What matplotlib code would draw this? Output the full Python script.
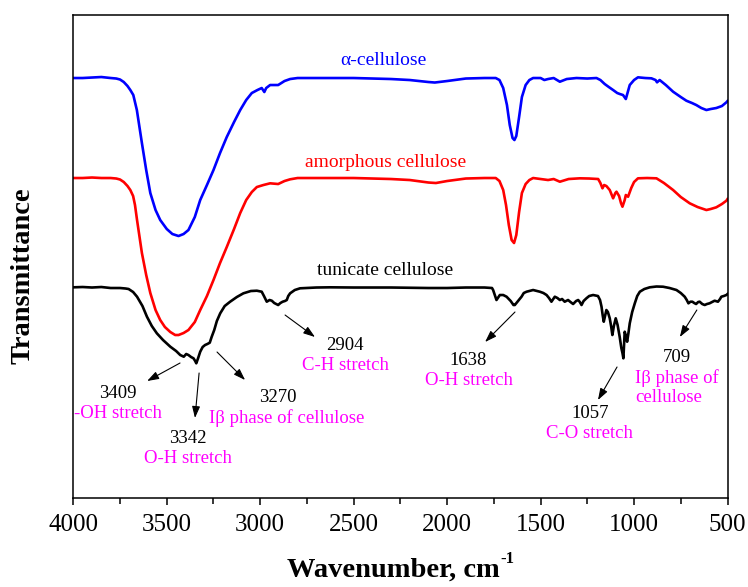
import matplotlib
matplotlib.use("Agg")
import matplotlib.pyplot as plt
from matplotlib.ticker import MultipleLocator

plt.rcParams["font.family"] = ["Liberation Serif", "DejaVu Serif"]

# FTIR spectra, transmittance in arbitrary (offset) units
alpha_wn = [4000, 3950, 3900, 3850, 3800, 3770, 3750, 3730, 3710, 3695, 3679, 3660, 3633, 3610,
            3588, 3560, 3535, 3500, 3470, 3437, 3410, 3384, 3350, 3321, 3285, 3250, 3215,
            3179, 3140, 3107, 3075, 3045, 3015, 2992, 2978, 2968, 2947, 2904, 2870, 2840,
            2800, 2700, 2500, 2300, 2200, 2100, 2066, 2000, 1900, 1800, 1740, 1720, 1700,
            1680, 1665, 1650, 1640, 1630, 1615, 1600, 1580, 1560, 1540, 1500, 1480, 1460,
            1430, 1397, 1360, 1308, 1250, 1201, 1180, 1157, 1135, 1112, 1090, 1076, 1059,
            1044, 1035, 1023, 1000, 979, 940, 907, 885, 877, 863, 830, 791, 750, 720, 690,
            667, 640, 613, 590, 560, 530, 506, 500]
alpha_t = [422, 422, 422.5, 423, 422, 421.5, 420.5, 418, 414, 410, 405, 390, 357, 330,
           307, 290, 280, 271, 266, 264, 266, 270, 283, 300, 315, 330, 347,
           363, 378, 390, 400, 407, 410, 412, 408, 412, 415, 415, 419, 421,
           422, 422, 422, 421, 420, 418, 417.5, 419, 421.5, 422, 422, 420, 412,
           395, 375, 362, 360, 364, 383, 403, 415, 420, 422, 422, 420, 421,
           422, 418.3, 421, 422, 421.5, 422, 420, 416, 413, 410, 407, 406, 405,
           401, 407, 415, 420, 422.7, 422, 421.7, 420, 417.7, 420, 415, 408.3, 403, 399.3, 397,
           395, 392, 390, 391, 392, 394, 397.7, 399]

amorph_wn = [4000, 3950, 3900, 3850, 3800, 3770, 3750, 3730, 3710, 3695, 3680, 3670, 3659, 3633,
             3610, 3588, 3560, 3535, 3510, 3481, 3455, 3437, 3410, 3384, 3350, 3321, 3285,
             3250, 3215, 3179, 3140, 3107, 3075, 3045, 3018, 2983, 2947, 2904, 2870, 2840,
             2800, 2700, 2500, 2300, 2200, 2100, 2060, 2000, 1900, 1800, 1740, 1720, 1700,
             1685, 1670, 1655, 1642, 1630, 1615, 1600, 1580, 1560, 1540, 1500, 1460, 1430,
             1397, 1350, 1290, 1240, 1192, 1180, 1169, 1160, 1148, 1130, 1112, 1100, 1094,
             1080, 1070, 1062, 1050, 1044, 1032, 1015, 1000, 979, 930, 880, 840, 791, 750,
             702, 660, 613, 590, 560, 530, 506, 500]
amorph_t = [322, 322, 322.5, 322, 322, 321.5, 320.5, 318, 314, 310, 304, 295, 280, 247,
            225, 207, 190, 180, 173, 168, 165, 165, 167, 170, 178, 190, 204,
            220, 237, 253, 271, 287, 300, 308, 313, 315, 316.7, 316, 319, 320.7,
            322, 322, 322, 321, 320, 317.5, 317, 319, 321.5, 322, 322, 319, 310,
            295, 275, 260, 257, 265, 288, 307, 316, 320, 322, 321, 320, 321,
            318.3, 321, 321.7, 321.5, 321, 317, 311.7, 315, 314, 310, 301.7, 307, 308.3,
            304, 297, 293.3, 300, 305, 303.3, 312, 318, 321.7, 322, 321.7, 317, 310, 303,
            296.7, 293, 290, 291, 292.7, 296, 299.3, 301]

tunicate_wn = [4000, 3950, 3900, 3850, 3800, 3750, 3720, 3704, 3680, 3659, 3630, 3606, 3580,
               3553, 3520, 3481, 3450, 3428, 3417, 3409, 3396, 3384, 3370, 3357, 3348, 3342,
               3332, 3321, 3308, 3295, 3283, 3270, 3260, 3246, 3232, 3214, 3190, 3161, 3125,
               3090, 3050, 3018, 2992, 2980, 2965, 2950, 2938, 2925, 2904, 2892, 2880, 2868,
               2858, 2850, 2840, 2815, 2787, 2700, 2626, 2500, 2300, 2100, 2000, 1900, 1800,
               1760, 1754, 1745, 1736, 1725, 1718, 1700, 1682, 1660, 1645, 1638, 1625, 1612,
               1602, 1590, 1575, 1540, 1504, 1485, 1468, 1455, 1442, 1424, 1410, 1397, 1385,
               1371, 1353, 1340, 1326, 1310, 1299, 1290, 1281, 1270, 1255, 1240, 1219, 1205,
               1193, 1182, 1174, 1168, 1162, 1155, 1148, 1140, 1130, 1122, 1116, 1108, 1098,
               1088, 1077, 1068, 1062, 1057, 1050, 1043, 1037, 1030, 1023, 1010, 996, 983,
               969, 945, 916, 880, 845, 810, 773, 750, 729, 718, 709, 698, 688, 678, 668, 657,
               649, 635, 622, 610, 596, 583, 569, 551, 540, 533, 520, 506, 500]
tunicate_t = [212.7, 213, 212.5, 213, 212, 212, 211.5, 211, 208, 203.3, 194, 183.3, 174,
              166.7, 160, 153.3, 149, 145, 144, 143.3, 146, 145, 143, 141.7, 139, 136.7,
              142, 148.3, 153, 155, 156, 157.3, 163, 170, 179, 186.7, 194, 198.3, 203,
              206.7, 209, 209.3, 208.3, 204, 198.3, 200, 199.3, 197, 195, 197, 198.3, 199,
              200, 204, 206.7, 210, 211.7, 212.5, 212.7, 212.5, 212.5, 212, 212, 212.5, 212.5,
              212, 210, 205, 200, 203, 205, 205, 203.3, 199, 195, 195, 198, 201,
              203.3, 207, 208.3, 210, 208.3, 207, 205, 202, 198.3, 203.3, 202, 200, 201,
              198.3, 200, 198, 196, 199, 200, 198, 195, 199, 201.7, 204, 205, 204.5,
              204, 200, 193.3, 185, 178.3, 184, 190, 188, 181.7, 173, 165, 174, 181.7,
              175, 163.3, 152, 147, 141.7, 168.3, 164, 158.3, 167, 176.7, 188, 196.7, 204,
              208.3, 211, 212.7, 213.5, 213.3, 212, 210, 207, 203.3, 200, 196.7, 198.3, 198.3, 197, 196, 198,
              198.3, 196, 195, 196, 196.7, 198, 199.3, 198.3, 201, 203.3, 204, 205, 206]

series = [
    (alpha_wn, alpha_t, "#0000FF", "α-cellulose", 2341, 440),
    (amorph_wn, amorph_t, "#FF0000", "amorphous cellulose", 2327, 338),
    (tunicate_wn, tunicate_t, "#000000", "tunicate cellulose", 2333, 230),
]

# peak annotations: arrow start, arrow end, number position, assignment position
peaks = [
    ("3409", "-OH stretch", (3429, 137), (3605, 119), (3761, 107), (3761, 87), "center"),
    ("3342", "O-H stretch", (3327, 127), (3349, 82), (3386, 62), (3386, 42), "center"),
    ("3270", "Iβ phase of cellulose", (3231, 148), (3081, 120), (2905, 103), (2860, 82), "center"),
    ("2904", "C-H stretch", (2867, 185), (2707, 163), (2546, 155), (2546, 135), "center"),
    ("1638", "O-H stretch", (1637, 188), (1797, 158), (1886, 140), (1886, 120), "center"),
    ("1057", "C-O stretch", (1091, 133), (1193, 100), (1236, 87), (1241, 67), "center"),
    ("709", "Iβ phase of\ncellulose", (664, 190), (755, 163), (771, 143), (995, 112.5), "left"),
]

fig = plt.figure(figsize=(7.48, 5.87), dpi=100)
ax = fig.add_axes([0.098, 0.1511, 0.8746, 0.8233])

for wn, t, color, name, lx, ly in series:
    ax.plot(wn, t, color=color, lw=1.9)
    ax.text(lx, ly, name, color=color, fontsize=14, ha="center", va="center")

magenta = "#FF00FF"
for num, desc, start, end, num_pos, desc_pos, align in peaks:
    ax.annotate("", xy=end, xytext=start,
                arrowprops=dict(arrowstyle="-|>,head_length=0.7,head_width=0.24",
                                color="black", lw=0.8, shrinkA=0, shrinkB=0,
                                mutation_scale=10))
    ax.text(*num_pos, num, fontsize=13.5, ha="center", va="center")
    ax.text(*desc_pos, desc, fontsize=13.5, color=magenta, ha=align, va="center",
            multialignment="left", linespacing=1.1)

ax.set_xlim(4000, 500)
ax.set_ylim(1.7, 485)
ax.xaxis.set_major_locator(MultipleLocator(500))
ax.xaxis.set_minor_locator(MultipleLocator(250))
ax.tick_params(axis="x", which="major", direction="out", length=5, width=1.1,
               labelsize=18, pad=6.3, top=False)
ax.tick_params(axis="x", which="minor", direction="out", length=4, width=1.1, top=False)
ax.set_yticks([])
for spine in ax.spines.values():
    spine.set_linewidth(1.1)

xlab = ax.set_xlabel("Wavenumber, cm", fontsize=20.5, fontweight="bold", va="center")
ax.xaxis.set_label_coords(0.49, -0.148)
ax.annotate("-1", xy=(1.0, 0.95), xycoords=xlab, fontsize=12, fontweight="bold",
            ha="left", va="center")
ax.set_ylabel("Transmittance", fontsize=20.5, fontweight="bold", va="center", ha="center")
ax.yaxis.set_label_coords(-0.077, 0.46)

fig.savefig("out.png", dpi=100)
